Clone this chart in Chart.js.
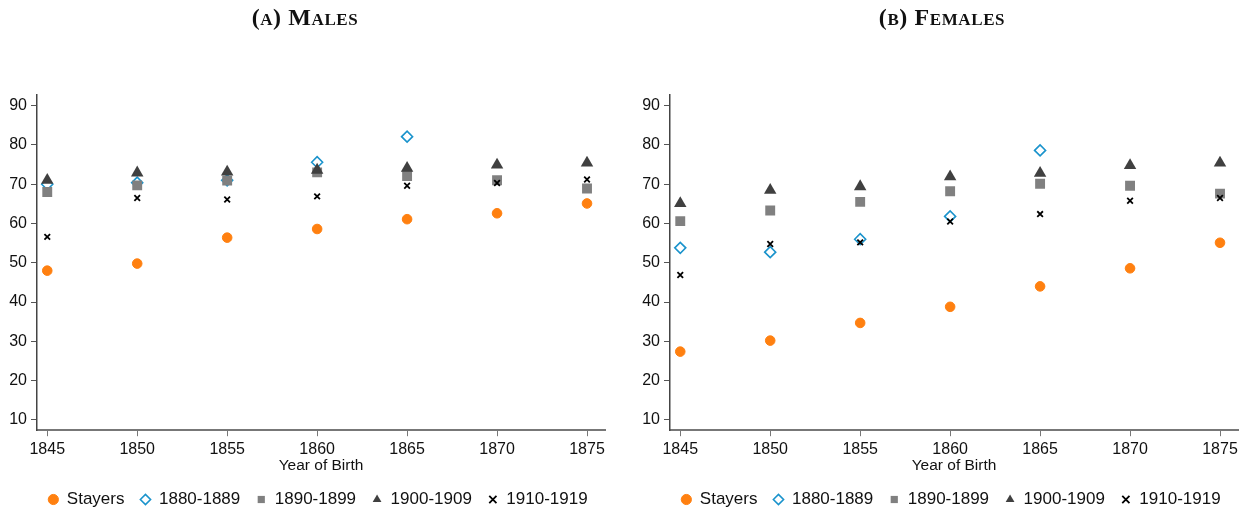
<!DOCTYPE html>
<html>
<head>
<meta charset="utf-8">
<script src="https://cdn.jsdelivr.net/npm/chart.js@4.4.1/dist/chart.umd.min.js"></script>
<style>
    body { margin: 0; background: #fff; overflow: hidden; }
    .panel { position: absolute; top: 0; height: 518px; }
    .title {
        position: absolute; top: 4px; width: 100%;
        font-family: "Liberation Serif", "DejaVu Serif", serif;
        font-weight: bold; font-variant: small-caps; font-size: 24px;
        color: #111; letter-spacing: 0.6px;
    }
</style>
</head>
<body>
<div class="panel" style="left:0; width:627px;">
    <div class="title" style="left:0; width:610px; text-align:center;">(a) Males</div>
    <canvas id="malesChart" width="627" height="518"></canvas>
</div>
<div class="panel" style="left:633px; width:621px;">
    <div class="title" style="left:0; width:618px; text-align:center;">(b) Females</div>
    <canvas id="femalesChart" width="621" height="518"></canvas>
</div>
<script>
// Year of birth categories
const years = [1845, 1850, 1855, 1860, 1865, 1870, 1875];
const yTicks = [10, 20, 30, 40, 50, 60, 70, 80, 90];
const seriesNames = ['Stayers', '1880-1889', '1890-1899', '1900-1909', '1910-1919'];

// Males
const maleStayers = [48.0, 49.8, 56.4, 58.6, 61.1, 62.6, 65.1];
const male1880 = [70.0, 70.4, 71.0, 75.6, 82.1, null, null];
const male1890 = [68.0, 69.7, 70.9, 73.0, 72.1, 71.0, 68.9];
const male1900 = [71.0, 72.9, 73.1, 73.6, 74.1, 74.9, 75.4];
const male1910 = [56.6, 66.5, 66.1, 66.9, 69.6, 70.3, 71.2];

// Females
const femaleStayers = [27.4, 30.2, 34.7, 38.8, 44.0, 48.6, 55.1];
const female1880 = [53.8, 52.7, 56.0, 61.8, 78.6, null, null];
const female1890 = [60.6, 63.3, 65.5, 68.2, 70.1, 69.6, 67.6];
const female1900 = [65.1, 68.5, 69.4, 71.9, 72.8, 74.8, 75.4];
const female1910 = [46.9, 54.8, 55.2, 60.5, 62.4, 65.8, 66.5];

const styles = [
    { pointStyle: 'circle', pointRadius: 4.8, pointBackgroundColor: '#ff8010', pointBorderColor: '#ff8010', pointBorderWidth: 1 },
    { pointStyle: 'rectRot', pointRadius: 5.5, pointBackgroundColor: 'rgba(255,255,255,0)', pointBorderColor: '#1a93cc', pointBorderWidth: 1.6 },
    { pointStyle: 'rect', pointRadius: 7, pointBackgroundColor: '#808080', pointBorderColor: '#808080', pointBorderWidth: 0 },
    { pointStyle: 'triangle', pointRadius: 7.2, pointBackgroundColor: '#404040', pointBorderColor: '#404040', pointBorderWidth: 0 },
    { pointStyle: 'crossRot', pointRadius: 4, pointBackgroundColor: '#000', pointBorderColor: '#000', pointBorderWidth: 1.8 }
];

Chart.defaults.font.family = '"Liberation Sans", Arial, sans-serif';
Chart.defaults.color = '#222';

// nudge the legend so it sits centred a bit right, like the original
const legendShift = {
    id: 'legendShift',
    beforeDraw: function(chart) {
        if (chart.legend) chart.legend.left = 31;
    }
};

function buildDatasets(seriesList) {
    return seriesList.map(function(values, i) {
        return Object.assign({
            label: seriesNames[i],
            data: values.map(function(v, j) { return { x: years[j], y: v }; }),
            showLine: false,
            order: 5 - i,
            borderColor: styles[i].pointBorderColor,
            backgroundColor: styles[i].pointBackgroundColor
        }, styles[i]);
    });
}

function makeChart(canvasId, seriesList, rightPad) {
    const el = document.getElementById(canvasId);
    return new Chart(el, {
        type: 'scatter',
        data: { datasets: buildDatasets(seriesList) },
        plugins: [legendShift],
        options: {
            responsive: false,
            animation: false,
            layout: { padding: { top: 95, right: rightPad, left: 0, bottom: 0 } },
            plugins: {
                tooltip: { enabled: false },
                legend: {
                    position: 'bottom',
                    labels: {
                        usePointStyle: true,
                        boxWidth: 10,
                        boxHeight: 7.2,
                        padding: 16,
                        font: { size: 17 },
                        color: '#111',
                        sort: function(a, b) { return a.datasetIndex - b.datasetIndex; }
                    }
                }
            },
            scales: {
                x: {
                    type: 'linear',
                    min: 1844.43,
                    max: 1876.0,
                    afterBuildTicks: function(scale) {
                        scale.ticks = years.map(function(v) { return { value: v }; });
                    },
                    afterFit: function(scale) { scale.height -= 7; },
                    ticks: {
                        autoSkip: false, maxRotation: 0, padding: 4,
                        font: { size: 16 }, color: '#111',
                        callback: function(v) { return String(v); }
                    },
                    grid: { drawOnChartArea: false, tickLength: 6, color: '#777', lineWidth: 1 },
                    border: { color: '#777', width: 2 },
                    title: { display: true, text: 'Year of Birth', font: { size: 15.5 }, color: '#111', padding: { top: 0, bottom: 0 } }
                },
                y: {
                    min: 7.4,
                    max: 92.7,
                    afterBuildTicks: function(scale) {
                        scale.ticks = yTicks.map(function(v) { return { value: v }; });
                    },
                    afterFit: function(scale) { scale.width = 37; },
                    ticks: { padding: 4, font: { size: 16 }, color: '#111' },
                    grid: { drawOnChartArea: false, tickLength: 6, color: '#555', lineWidth: 1 },
                    border: { color: '#444', width: 1.5 }
                }
            }
        }
    });
}

document.addEventListener('DOMContentLoaded', function() {
    makeChart('malesChart', [maleStayers, male1880, male1890, male1900, male1910], 22);
    makeChart('femalesChart', [femaleStayers, female1880, female1890, female1900, female1910], 16);
});
</script>
</body>
</html>
